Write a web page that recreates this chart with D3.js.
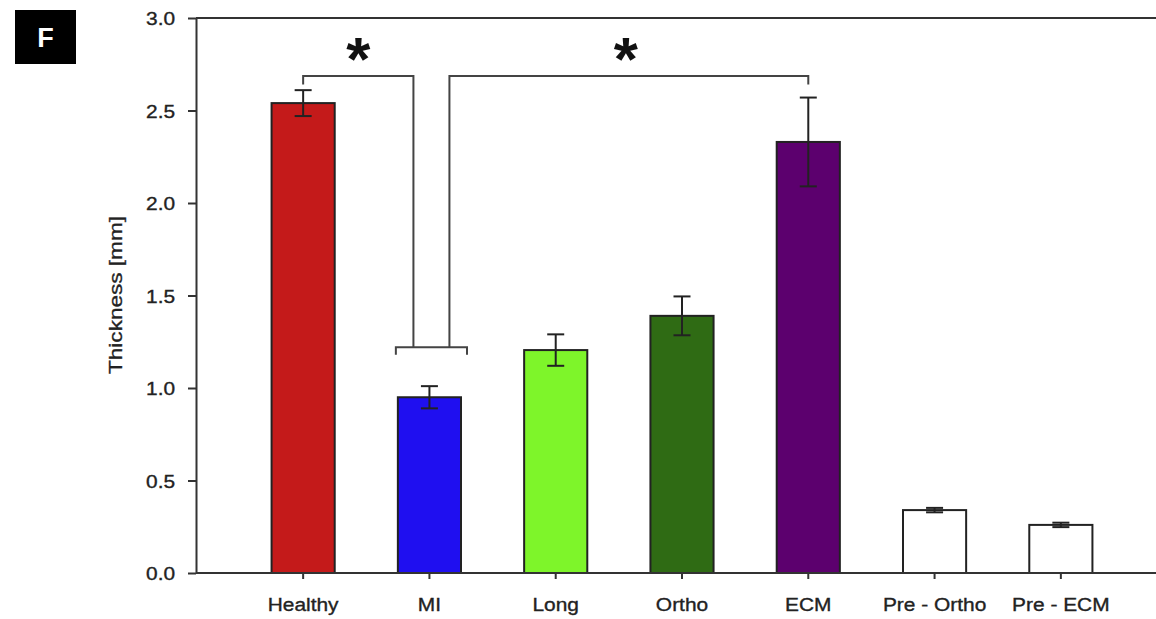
<!DOCTYPE html>
<html><head><meta charset="utf-8">
<script src="https://cdn.jsdelivr.net/npm/d3@7"></script>
<style>body{margin:0;background:#fff}svg{display:block}text{font-family:"Liberation Sans",Arial,sans-serif}</style>
</head><body><svg id="c" width="1156" height="619"></svg>
<script>
const categories = ["Healthy","MI","Long","Ortho","ECM","Pre - Ortho","Pre - ECM"];
const values = [2.54, 0.95, 1.205, 1.39, 2.33, 0.34, 0.26];
const errors = [0.07, 0.06, 0.085, 0.105, 0.24, 0.012, 0.012];
const colors = ["#c41a1a","#1f0ff0","#7ef52a","#2f6b14","#5c006e","#ffffff","#ffffff"];
const yTicks = [0.0,0.5,1.0,1.5,2.0,2.5,3.0];
// significance brackets levels (data units)
const sigLevel = 2.686, sigTick = 2.64, miLevel = 1.22, miTick = 1.18;

const svg = d3.select("#c");
const L = 196, R = 1156, T = 18, B = 573;
const x = d3.scaleBand().domain(categories).range([240, 1124]).paddingInner(0.5).paddingOuter(0.25);
const y = d3.scaleLinear().domain([0,3]).range([B, T]);

// panel label
svg.append("rect").attr("x",15).attr("y",10).attr("width",61).attr("height",54).attr("fill","#000");
svg.append("text").attr("x",45.5).attr("y",47).attr("text-anchor","middle").attr("fill","#fff")
  .attr("font-size",27).attr("font-weight","bold").text("F");

// bars
svg.selectAll("rect.bar").data(categories).join("rect").attr("class","bar")
  .attr("x",d=>x(d)).attr("width",x.bandwidth())
  .attr("y",(d,i)=>y(values[i])).attr("height",(d,i)=>B-y(values[i]))
  .attr("fill",(d,i)=>colors[i]).attr("stroke","#222").attr("stroke-width",2);

// error bars
const cx = d=>x(d)+x.bandwidth()/2;
const eb = svg.append("g").attr("stroke","#222").attr("stroke-width",2);
categories.forEach((d,i)=>{
  const c = cx(d), hi = y(values[i]+errors[i]), lo = y(values[i]-errors[i]);
  eb.append("line").attr("x1",c).attr("x2",c).attr("y1",hi).attr("y2",lo);
  eb.append("line").attr("x1",c-8.5).attr("x2",c+8.5).attr("y1",hi).attr("y2",hi);
  eb.append("line").attr("x1",c-8.5).attr("x2",c+8.5).attr("y1",lo).attr("y2",lo);
});

// axes
const yAxis = svg.append("g").attr("transform",`translate(${L},0)`)
  .call(d3.axisLeft(y).tickValues(yTicks).tickFormat(d3.format(".1f")).tickSize(8).tickSizeOuter(0));
yAxis.select(".domain").attr("stroke","#333").attr("stroke-width",2);
yAxis.selectAll(".tick line").attr("stroke","#333").attr("stroke-width",2);
yAxis.selectAll(".tick text").attr("font-size",19).attr("fill","#222").attr("stroke","#222").attr("stroke-width",0.35)
  .attr("x",-19).attr("dy","0.36em").attr("transform","scale(1.1,1)");

const xAxis = svg.append("g").attr("transform",`translate(0,${B})`)
  .call(d3.axisBottom(x).tickSize(6).tickSizeOuter(0));
xAxis.select(".domain").attr("d",`M${L},0H${R}`).attr("stroke","#333").attr("stroke-width",2);
xAxis.selectAll(".tick line").attr("stroke","#333").attr("stroke-width",2);
xAxis.selectAll(".tick text").attr("font-size",19).attr("fill","#222").attr("stroke","#222").attr("stroke-width",0.35)
  .attr("y",38).attr("dy",0).attr("transform","scale(1.1,1)");

// top frame line
svg.append("line").attr("x1",L).attr("x2",R).attr("y1",T).attr("y2",T).attr("stroke","#333").attr("stroke-width",2);

// y label
svg.append("text").attr("transform",`translate(122,${295}) rotate(-90)`).attr("text-anchor","middle")
  .attr("font-size",18).attr("fill","#222").attr("stroke","#222").attr("stroke-width",0.3)
  .attr("textLength",158).attr("lengthAdjust","spacingAndGlyphs")
  .text("Thickness [mm]");

// significance brackets
const g = svg.append("g").attr("fill","none").attr("stroke","#444").attr("stroke-width",2);
const xh = cx("Healthy"), xm = cx("MI"), xe = cx("ECM");
const mL = x("MI")-2, mR = x("MI")+x.bandwidth()+6;
const v1 = xm-16, v2 = xm+20;
g.append("path").attr("d",`M${xh},${y(sigTick)}V${y(sigLevel)}H${v1}V${y(miLevel)}`);
g.append("path").attr("d",`M${xe},${y(sigTick)}V${y(sigLevel)}H${v2}V${y(miLevel)}`);
g.append("path").attr("d",`M${mL},${y(miTick)}V${y(miLevel)}H${mR}V${y(miTick)}`);

svg.append("text").attr("x",(xh+v1)/2).attr("y",y(sigLevel)+4).attr("text-anchor","middle")
  .attr("font-size",62).attr("font-weight","bold").attr("fill","#111").text("*");
svg.append("text").attr("x",(v2+xe)/2-3).attr("y",y(sigLevel)+4).attr("text-anchor","middle")
  .attr("font-size",62).attr("font-weight","bold").attr("fill","#111").text("*");
</script></body></html>
